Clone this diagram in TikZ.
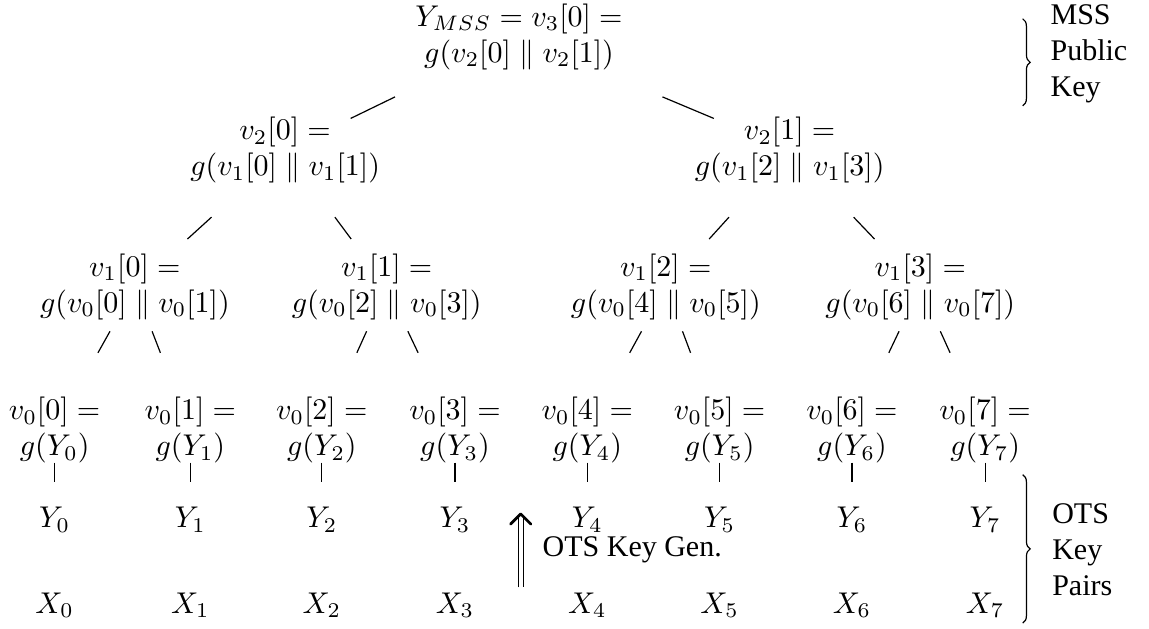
\documentclass[tikz,border=0pt]{standalone}
\usepackage{fontspec}
\setmainfont{Liberation Serif}
\usetikzlibrary{calc, arrows.meta, decorations.pathreplacing}

\tikzset{
  knot/.style={align=center, inner sep=1pt},
  note/.style={align=left, anchor=west, inner sep=0pt},
  curly/.style={decorate, decoration={brace, amplitude=2.5pt}},
}

\begin{document}
\begin{tikzpicture}
			\useasboundingbox (0,0) rectangle (13.46,-7.36);
			
			% Wurzel und innere Knoten
			\node[knot] (root) at (6.08,-0.43) {$Y_{MSS} = v_3[0] =$\\ $g(v_2[0] \parallel v_2[1])$};
			\node[knot] (v20) at (3.34,-1.76) {$v_2[0] =$\\ $g(v_1[0] \parallel v_1[1])$};
			\node[knot] (v21) at (9.25,-1.76) {$v_2[1] =$\\ $g(v_1[2] \parallel v_1[3])$};
			\node[knot] (v10) at (1.58,-3.36) {$v_1[0] =$\\ $g(v_0[0] \parallel v_0[1])$};
			\node[knot] (v11) at (4.53,-3.36) {$v_1[1] =$\\ $g(v_0[2] \parallel v_0[3])$};
			\node[knot] (v12) at (7.80,-3.36) {$v_1[2] =$\\ $g(v_0[4] \parallel v_0[5])$};
			\node[knot] (v13) at (10.78,-3.36) {$v_1[3] =$\\ $g(v_0[6] \parallel v_0[7])$};
			
			% Blaetter, OTS-Schluessel
			\foreach \i/\x in {0/0.64,1/2.23,2/3.77,3/5.33,4/6.88,5/8.43,6/9.98,7/11.54} {
				\node[knot] (v0\i) at (\x,-5.04) {$v_0[\i] =$\\ $g(Y_\i)$};
				\node[knot] (y\i) at (\x,-6.09) {$Y_\i$};
				\node[knot] (x\i) at (\x,-7.09) {$X_\i$};
				\draw ($(v0\i)!0.36!(y\i)$) -- ($(v0\i)!0.58!(y\i)$);
			}
			
			% Kanten
			\foreach \p/\c/\a/\b in {root/v20/0.53/0.72, root/v21/0.53/0.72,
				v20/v10/0.49/0.65, v20/v11/0.49/0.65, v21/v12/0.49/0.65, v21/v13/0.49/0.65,
				v10/v00/0.31/0.46, v10/v01/0.31/0.46, v11/v02/0.31/0.46, v11/v03/0.31/0.46,
				v12/v04/0.31/0.46, v12/v05/0.31/0.46, v13/v06/0.31/0.46, v13/v07/0.31/0.46} {
				\draw ($(\p)!\a!(\c)$) -- ($(\p)!\b!(\c)$);
			}
			
			% Klammern
			\coordinate (msstop) at (11.98,-0.22);
			\coordinate (mssbot) at (11.98,-1.24);
			\draw[curly] (msstop) -- (mssbot);
			\node[note] (msskey) at (12.30,-0.63) {MSS\\Public\\Key};
			
			\coordinate (otstop) at (11.98,-5.56);
			\coordinate (otsbot) at (11.98,-7.30);
			\draw[curly] (otstop) -- (otsbot);
			\node[note] (otskey) at (12.32,-6.44) {OTS\\Key\\Pairs};
			
			% Schluesselerzeugung
			\coordinate (genlo) at (6.10,-6.88);
			\coordinate (genhi) at (6.10,-6.03);
			\draw[double, double distance=1.2pt] (genlo) -- (genhi);
			\draw[line width=0.9pt, line cap=round, line join=round] ($(genhi)+(-0.12,-0.11)$) -- ($(genhi)+(0,0.01)$) -- ($(genhi)+(0.12,-0.11)$);
			\node[note] (gen) at (6.35,-6.44) {OTS Key Gen.};
		\end{tikzpicture}
\end{document}
